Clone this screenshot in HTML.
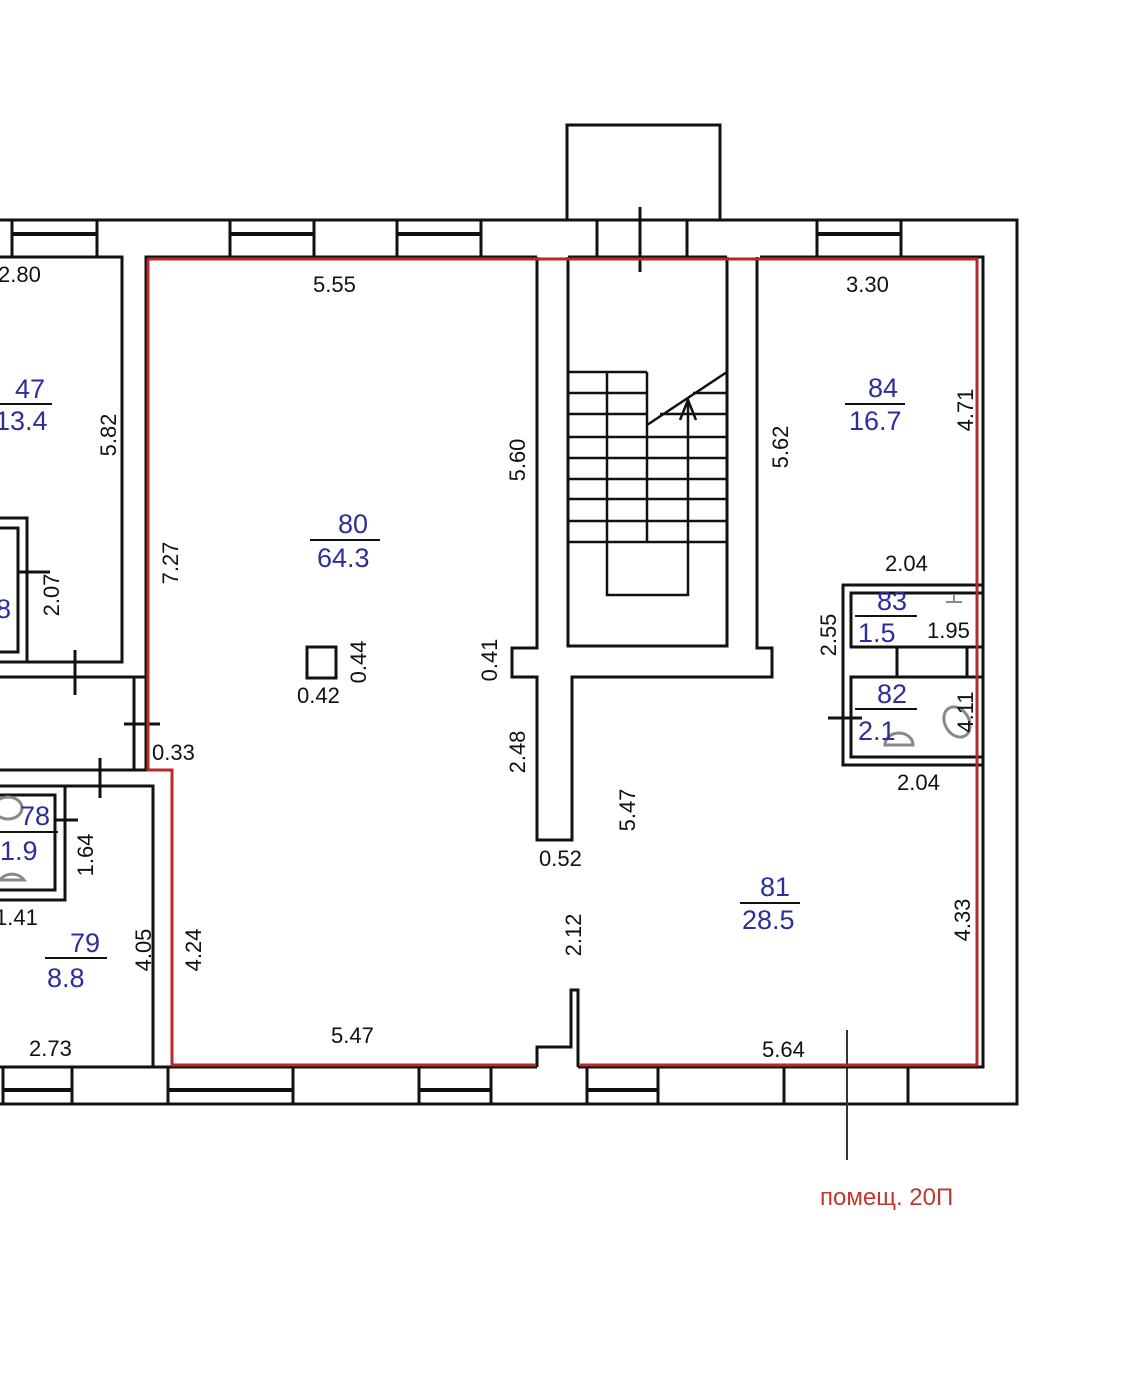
<!DOCTYPE html>
<html><head><meta charset="utf-8"><style>html,body{margin:0;padding:0;background:#fff}svg{display:block}</style></head>
<body>
<svg width="1128" height="1378" viewBox="0 0 1128 1378" xmlns="http://www.w3.org/2000/svg" font-family="Liberation Sans, sans-serif" font-size="22">
<rect width="1128" height="1378" fill="#fff"/>
<g stroke="#111" stroke-width="3" fill="none">
<!-- outer wall -->
<polyline points="0,220 1017,220 1017,1104 0,1104"/>
<!-- balcony -->
<polyline points="567,220 567,125 720,125 720,220"/>
<line x1="640" y1="207" x2="640" y2="272"/><line x1="597" y1="220" x2="597" y2="257"/><line x1="687" y1="220" x2="687" y2="257"/>
<!-- top windows -->
<g><line x1="12" y1="220" x2="12" y2="257"/><line x1="97" y1="220" x2="97" y2="257"/><line x1="12" y1="234" x2="97" y2="234" stroke-width="4"/></g>
<g><line x1="230" y1="220" x2="230" y2="257"/><line x1="314" y1="220" x2="314" y2="257"/><line x1="230" y1="234" x2="314" y2="234" stroke-width="4"/></g>
<g><line x1="397" y1="220" x2="397" y2="257"/><line x1="481" y1="220" x2="481" y2="257"/><line x1="397" y1="234" x2="481" y2="234" stroke-width="4"/></g>
<g><line x1="817" y1="220" x2="817" y2="257"/><line x1="901" y1="220" x2="901" y2="257"/><line x1="817" y1="234" x2="901" y2="234" stroke-width="4"/></g>
<!-- bottom windows -->
<g><line x1="3" y1="1067" x2="3" y2="1104"/><line x1="72" y1="1067" x2="72" y2="1104"/><line x1="3" y1="1090" x2="72" y2="1090" stroke-width="4"/></g>
<g><line x1="168" y1="1067" x2="168" y2="1104"/><line x1="293" y1="1067" x2="293" y2="1104"/><line x1="168" y1="1090" x2="293" y2="1090" stroke-width="4"/></g>
<g><line x1="419" y1="1067" x2="419" y2="1104"/><line x1="491" y1="1067" x2="491" y2="1104"/><line x1="419" y1="1090" x2="491" y2="1090" stroke-width="4"/></g>
<g><line x1="587" y1="1067" x2="587" y2="1104"/><line x1="658" y1="1067" x2="658" y2="1104"/><line x1="587" y1="1090" x2="658" y2="1090" stroke-width="4"/></g>
<line x1="784" y1="1067" x2="784" y2="1104"/><line x1="908" y1="1067" x2="908" y2="1104"/>
<line x1="847" y1="1030" x2="847" y2="1160" stroke="#333" stroke-width="2"/>
<!-- main inner outline black -->
<polyline points="146,770 146,257 537,257"/>
<line x1="0" y1="1067" x2="537" y2="1067"/>
<polyline points="578,1067 983,1067 983,257 760,257"/>
<line x1="568" y1="257" x2="727" y2="257"/>
<!-- stair core -->
<polyline points="537,257 537,648 512,648 512,677 537,677 537,840 572,840 572,677 772,677 772,648 757,648 757,257"/>
<polyline points="568,257 568,646 727,646 727,257"/>
<!-- stairs -->
<g stroke-width="2.5">
<line x1="568" y1="372" x2="647" y2="372"/><line x1="647" y1="372" x2="647" y2="542"/>
<line x1="568" y1="393" x2="647" y2="393"/><line x1="568" y1="414" x2="647" y2="414"/>
<line x1="693" y1="393" x2="727" y2="393"/><line x1="660" y1="414" x2="727" y2="414"/>
<line x1="568" y1="437" x2="727" y2="437"/><line x1="568" y1="458" x2="727" y2="458"/>
<line x1="568" y1="479" x2="727" y2="479"/><line x1="568" y1="499" x2="727" y2="499"/>
<line x1="568" y1="521" x2="727" y2="521"/><line x1="568" y1="542" x2="727" y2="542"/>
<line x1="647" y1="425" x2="727" y2="372"/>
<polyline points="607,372 607,595 688,595 688,400"/>
<polyline points="680,420 688,400 696,420"/>
</g>
<!-- bottom partition -->
<polyline points="537,1067 537,1047 571,1047 571,990 578,990 578,1067"/>
<!-- column -->
<rect x="307" y="647" width="29" height="31"/>
<!-- left rooms -->
<polyline points="0,257 122,257 122,662 0,662"/>
<polyline points="0,518 27,518 27,662"/><polyline points="0,528 18,528 18,652 0,652"/>
<line x1="18" y1="572" x2="50" y2="572"/>
<polyline points="0,677 134,677 134,770 0,770"/><line x1="146" y1="677" x2="134" y2="677"/>
<line x1="75" y1="650" x2="75" y2="695"/><line x1="124" y1="724" x2="160" y2="724"/>
<line x1="100" y1="758" x2="100" y2="798"/>
<polyline points="0,786 65,786 65,900 0,900"/><polyline points="0,795 55,795 55,890 0,890"/>
<line x1="55" y1="820" x2="78" y2="820"/>
<polyline points="65,786 153,786 153,1067"/><line x1="134" y1="770" x2="170" y2="770"/>
<!-- 82/83 -->
<polyline points="983,585 843,585 843,765 983,765"/>
<polyline points="983,593 851,593 851,647 983,647"/>
<polyline points="983,677 851,677 851,757 983,757"/>
<line x1="897" y1="647" x2="897" y2="677"/><line x1="967" y1="647" x2="967" y2="677"/>
<line x1="828" y1="718" x2="862" y2="718"/>
</g>
<!-- red outline -->
<g stroke="#b52a2a" stroke-width="3" fill="none">
<polyline points="148,259 977,259 977,1065 580,1065"/>
<polyline points="148,259 148,770 172,770 172,1065 536,1065"/>
</g>
<!-- fixtures grey -->
<g stroke="#888" stroke-width="3" fill="none">
<ellipse cx="8" cy="808" rx="14" ry="11"/><path d="M0,880 a14,12 0 0 1 24,0 z"/>
<ellipse cx="957" cy="722" rx="12" ry="16" transform="rotate(-30 957 722)"/>
<path d="M885,745 a14,12 0 0 1 28,0 z"/>
<line x1="946" y1="602" x2="962" y2="602" stroke-width="2"/><line x1="954" y1="594" x2="954" y2="602" stroke-width="2"/>
</g>
<!-- underlines -->
<g stroke="#111" stroke-width="2">
<line x1="0" y1="404" x2="52" y2="404"/><line x1="310" y1="540" x2="380" y2="540"/>
<line x1="845" y1="404" x2="905" y2="404"/><line x1="740" y1="903" x2="800" y2="903"/>
<line x1="855" y1="616" x2="917" y2="616"/><line x1="855" y1="709" x2="917" y2="709"/>
<line x1="0" y1="832" x2="58" y2="832"/><line x1="45" y1="958" x2="107" y2="958"/>
</g>
<!-- blue labels -->
<g fill="#2b2f9a" font-size="27">
<text x="15" y="398">47</text><text x="-5" y="430">13.4</text>
<text x="338" y="533">80</text><text x="317" y="567">64.3</text>
<text x="868" y="397">84</text><text x="849" y="430">16.7</text>
<text x="760" y="896">81</text><text x="742" y="929">28.5</text>
<text x="877" y="610">83</text><text x="858" y="642">1.5</text>
<text x="877" y="703">82</text><text x="858" y="740">2.1</text>
<text x="20" y="825">78</text><text x="0" y="860">1.9</text>
<text x="70" y="952">79</text><text x="47" y="987">8.8</text>
<text x="-4" y="618">8</text>
</g>
<!-- dims -->
<g fill="#111">
<text x="-2" y="282">2.80</text><text x="313" y="292">5.55</text><text x="846" y="292">3.30</text>
<text x="885" y="571">2.04</text><text x="927" y="638">1.95</text><text x="897" y="790">2.04</text>
<text x="297" y="703">0.42</text><text x="539" y="866">0.52</text><text x="152" y="760">0.33</text>
<text x="-5" y="925">1.41</text><text x="29" y="1056">2.73</text><text x="331" y="1043">5.47</text>
<text x="762" y="1057">5.64</text>
<text transform="translate(116,435) rotate(-90)" text-anchor="middle">5.82</text>
<text transform="translate(178,563) rotate(-90)" text-anchor="middle">7.27</text>
<text transform="translate(59,595) rotate(-90)" text-anchor="middle">2.07</text>
<text transform="translate(525,460) rotate(-90)" text-anchor="middle">5.60</text>
<text transform="translate(788,447) rotate(-90)" text-anchor="middle">5.62</text>
<text transform="translate(973,410) rotate(-90)" text-anchor="middle">4.71</text>
<text transform="translate(366,662) rotate(-90)" text-anchor="middle">0.44</text>
<text transform="translate(497,660) rotate(-90)" text-anchor="middle">0.41</text>
<text transform="translate(525,752) rotate(-90)" text-anchor="middle">2.48</text>
<text transform="translate(635,810) rotate(-90)" text-anchor="middle">5.47</text>
<text transform="translate(581,935) rotate(-90)" text-anchor="middle">2.12</text>
<text transform="translate(836,635) rotate(-90)" text-anchor="middle">2.55</text>
<text transform="translate(973,712) rotate(-90)" text-anchor="middle">4.11</text>
<text transform="translate(970,920) rotate(-90)" text-anchor="middle">4.33</text>
<text transform="translate(93,855) rotate(-90)" text-anchor="middle">1.64</text>
<text transform="translate(151,950) rotate(-90)" text-anchor="middle">4.05</text>
<text transform="translate(201,950) rotate(-90)" text-anchor="middle">4.24</text>
</g>
<text x="820" y="1205" fill="#c0392b" font-size="24">помещ. 20П</text>
</svg>
</body></html>
